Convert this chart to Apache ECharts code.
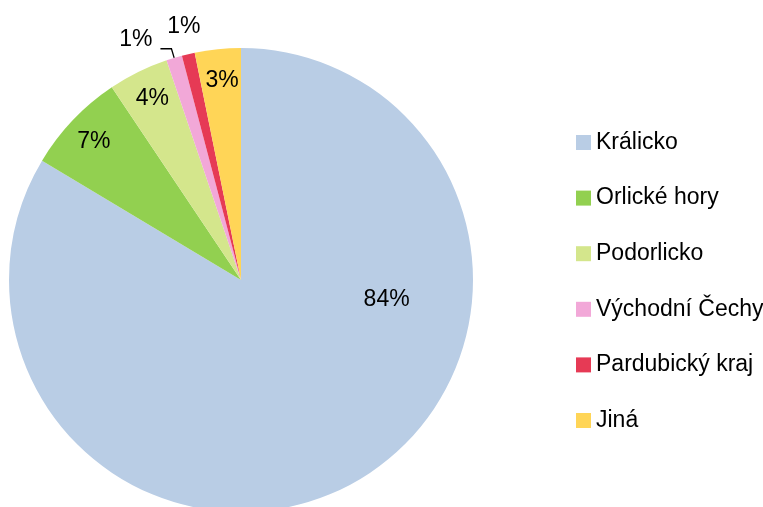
<!DOCTYPE html>
<html>
<head>
<meta charset="utf-8">
<script src="https://cdn.jsdelivr.net/npm/echarts@6/dist/echarts.min.js"></script>
<style>
html, body { margin: 0; padding: 0; background: #fff; }
#main { width: 763px; height: 507px; }
</style>
</head>
<body>
<div id="main"></div>
<script>
var categories = ['Králicko', 'Orlické hory', 'Podorlicko', 'Východní Čechy', 'Pardubický kraj', 'Jiná'];
var values = [83.6, 7.0, 4.2, 1.1, 0.9, 3.2];
var colors = ['#B9CDE5', '#92D050', '#D4E68C', '#F2A8D8', '#E63A55', '#FFD557'];

// label nudges (Excel put the labels off the usual spots)
var labelShift = [[87, -84], [-61, -56], [-36, -75], [-3, -9], [-30, -137], [-7, -81]];

var chart = echarts.init(document.getElementById('main'));

var seriesData = categories.map(function (name, i) {
    var item = { name: name, value: values[i], itemStyle: { color: colors[i] } };
    if (i === 3) {
        item.label = { position: 'outside' };
        item.labelLine = { show: true, length: 9.5, length2: 11 };
    }
    return item;
});

option = {
    animation: false,
    textStyle: { fontFamily: 'Liberation Sans' },
    legend: {
        orient: 'vertical',
        left: 571,
        top: 126,
        itemWidth: 15,
        itemHeight: 15,
        itemGap: 32.6,
        icon: 'rect',
        selectedMode: false,
        textStyle: {
            fontFamily: 'Liberation Sans',
            fontSize: 23,
            lineHeight: 22,
            color: '#000'
        },
        data: categories
    },
    series: [
        {
            type: 'pie',
            center: [241, 280],
            radius: 232,
            startAngle: 90,
            clockwise: true,
            avoidLabelOverlap: false,
            percentPrecision: 0,
            label: {
                show: true,
                position: 'inside',
                formatter: '{d}%',
                fontFamily: 'Liberation Sans',
                fontSize: 23,
                color: '#000'
            },
            labelLine: {
                show: false,
                lineStyle: { color: '#000', width: 1.3 }
            },
            labelLayout: function (params) {
                var s = labelShift[params.dataIndex];
                return { dx: s[0], dy: s[1] };
            },
            emphasis: { disabled: true },
            data: seriesData
        }
    ]
};
chart.setOption(option);
</script>
</body>
</html>
